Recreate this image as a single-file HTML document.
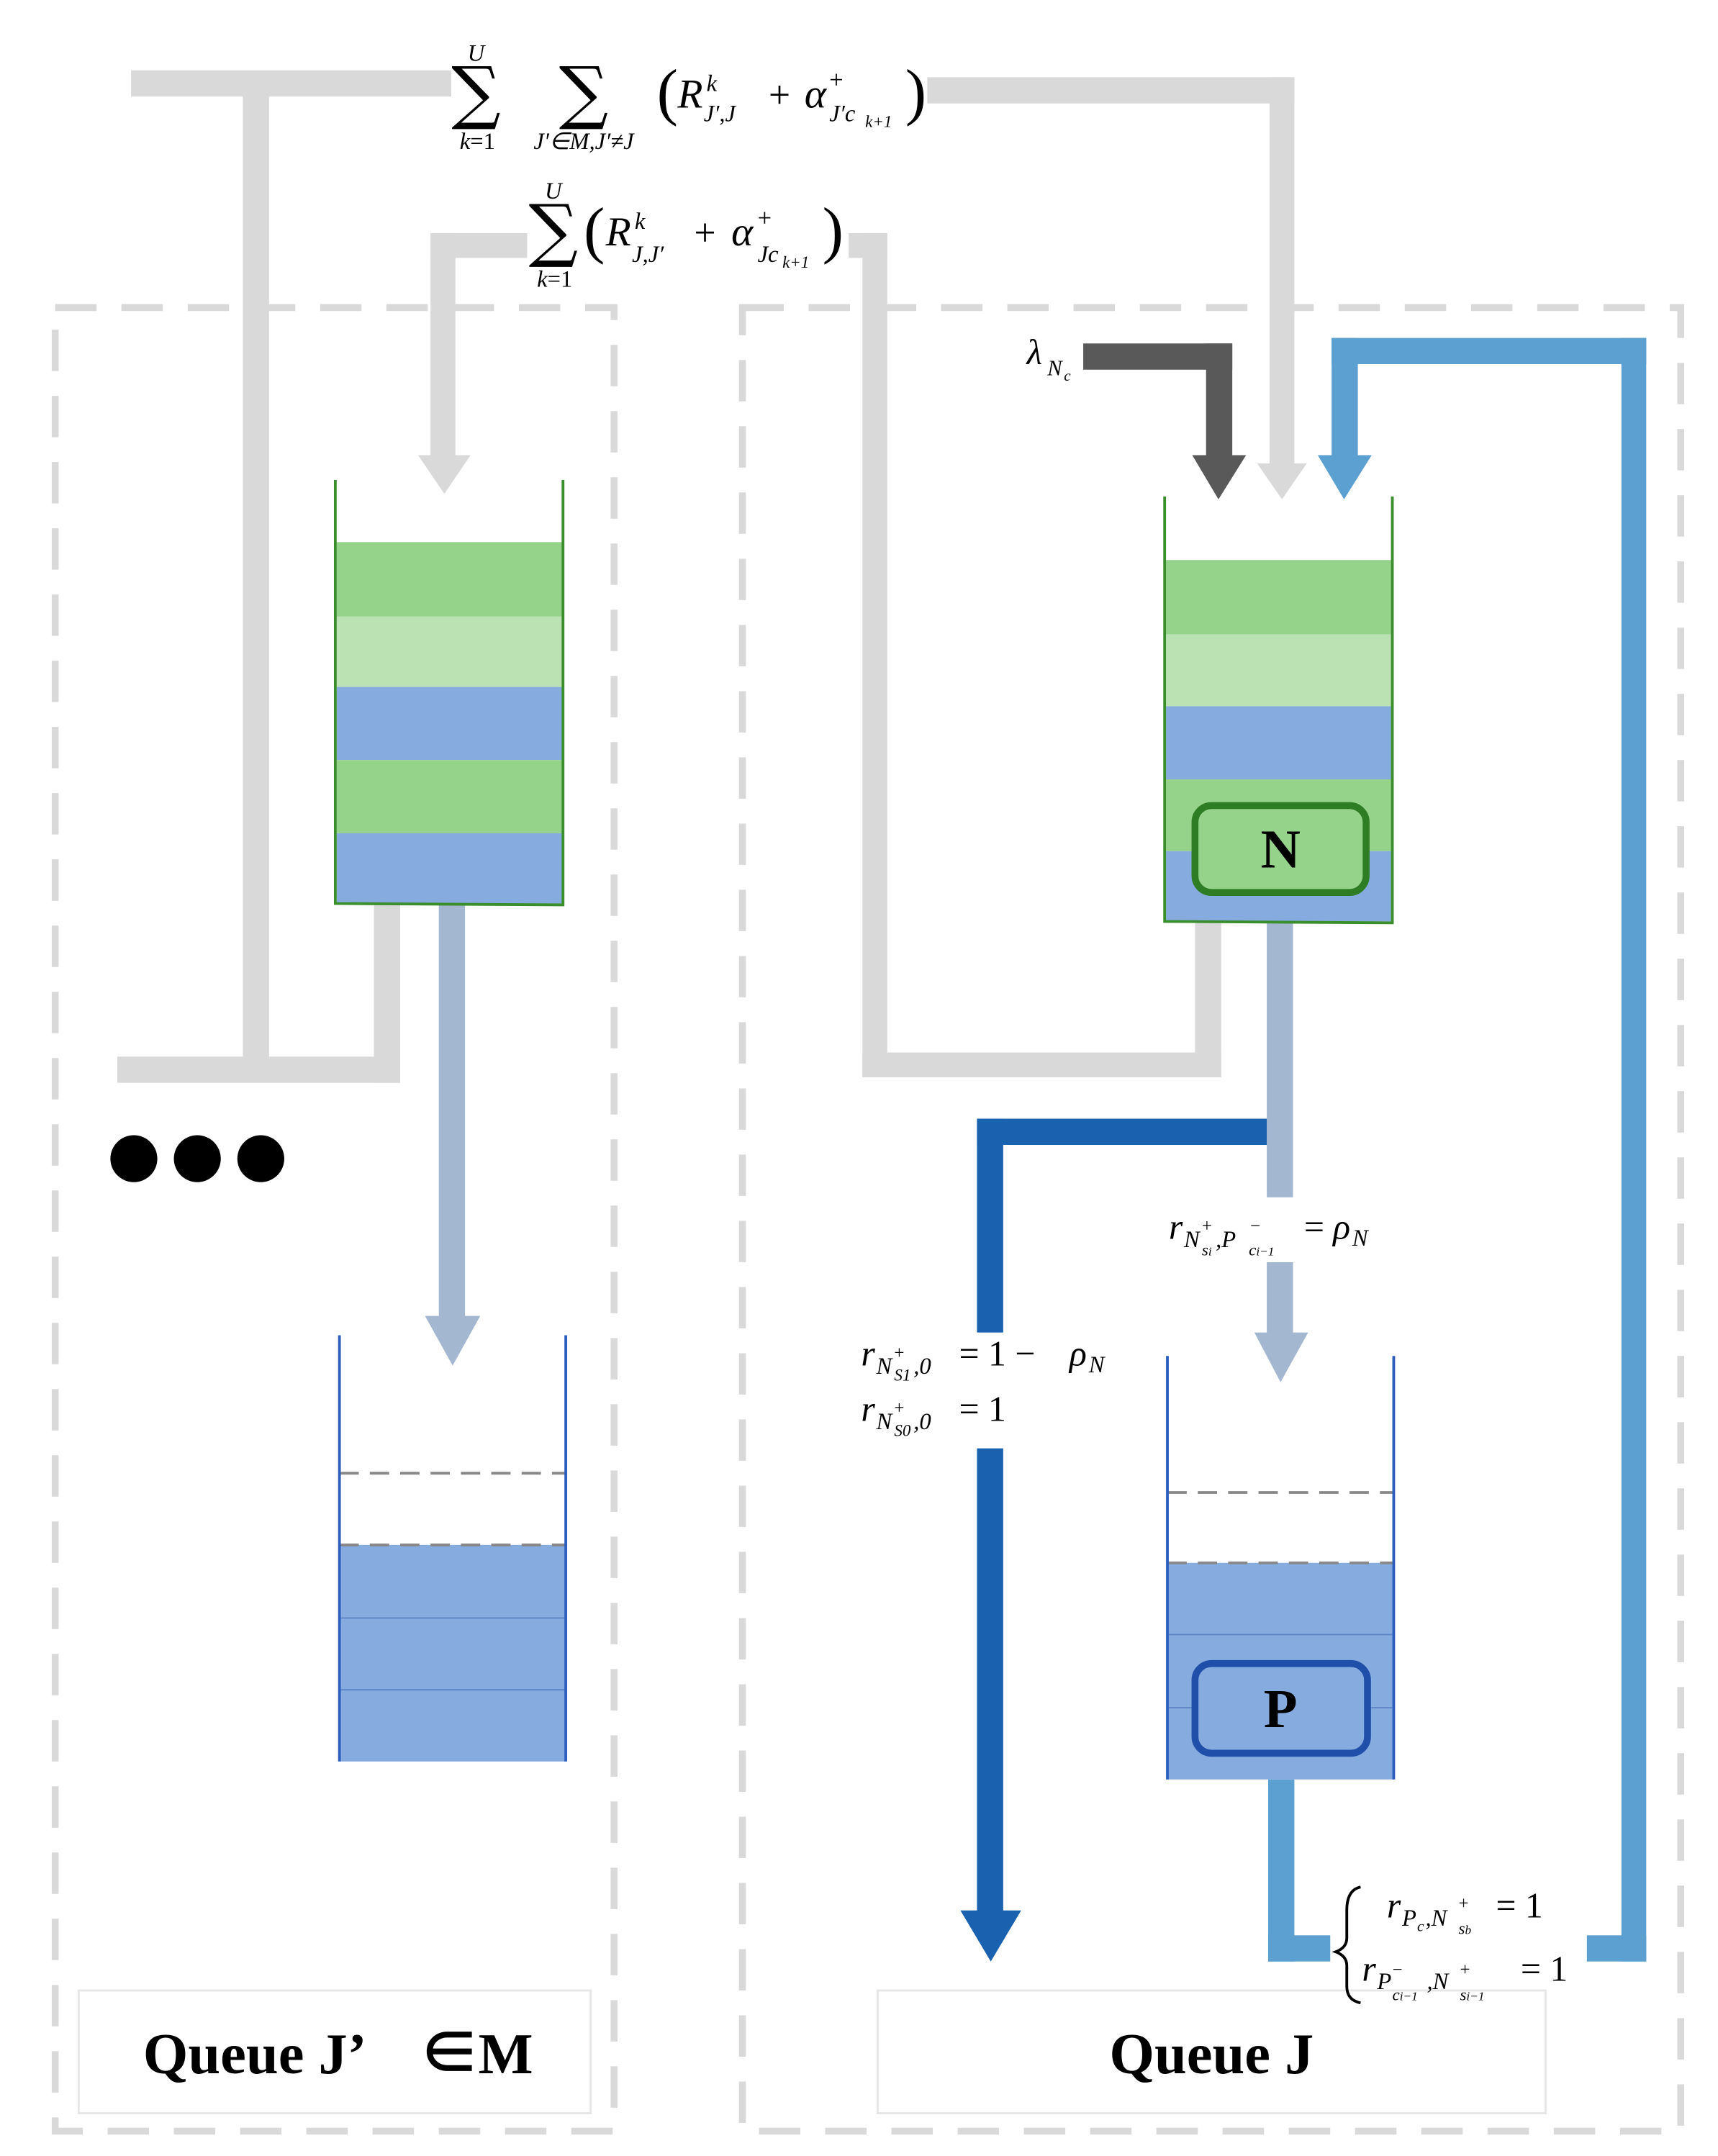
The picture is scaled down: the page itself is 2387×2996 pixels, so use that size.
<!DOCTYPE html>
<html><head><meta charset="utf-8"><style>
html,body{margin:0;padding:0;background:#fff}
svg{display:block}
text{font-family:"Liberation Serif",serif}
.m{font-style:italic}
.s{font-family:"DejaVu Serif",serif}
</style></head><body>
<svg width="2387" height="2996" viewBox="0 0 1245 1563" preserveAspectRatio="none" xmlns="http://www.w3.org/2000/svg">
<rect x="40" y="223" width="405" height="1322" fill="none" stroke="#d9d9d9" stroke-width="5" stroke-dasharray="30,18"/>
<rect x="538" y="223" width="680" height="1322" fill="none" stroke="#d9d9d9" stroke-width="5" stroke-dasharray="30,18"/>
<rect x="57" y="1443" width="371" height="89" fill="#fff" stroke="#e6e6e6" stroke-width="1.5"/>
<rect x="636" y="1443" width="484" height="89" fill="#fff" stroke="#e6e6e6" stroke-width="1.5"/>
<text x="245" y="1503" font-size="42" font-weight="bold" text-anchor="middle">Queue J’　∈M</text>
<text x="878" y="1503" font-size="42" font-weight="bold" text-anchor="middle">Queue J</text>

<g fill="#d9d9d9">
<rect x="95" y="51" width="232" height="19"/>
<rect x="176" y="60" width="19" height="720"/>
<rect x="85" y="766" width="205" height="19"/>
<rect x="271" y="655" width="19" height="130"/>
<rect x="672" y="56" width="266" height="19"/>
<rect x="920" y="56" width="18" height="284"/>
<polygon points="911,336 947,336 929,362"/>
<rect x="312" y="169" width="70" height="18"/>
<rect x="312" y="169" width="18" height="165"/>
<polygon points="303,330 341,330 322,358"/>
<rect x="615" y="169" width="28" height="18"/>
<rect x="625" y="169" width="18" height="612"/>
<rect x="625" y="763" width="260" height="18"/>
<rect x="866" y="668" width="19" height="113"/>
</g>
<rect x="785" y="249" width="108" height="19" fill="#595959"/>
<rect x="874" y="249" width="19" height="84" fill="#595959"/>
<polygon points="864,330 903,330 883,362" fill="#595959"/>
<g fill="#5ba0d0">
<rect x="965" y="245" width="228" height="19"/>
<rect x="965" y="245" width="19" height="88"/>
<polygon points="955,330 994,330 974,362"/>
<rect x="1175" y="245" width="18" height="1177"/>
<rect x="1150" y="1403" width="43" height="19"/>
<rect x="919" y="1290" width="19" height="132"/>
<rect x="919" y="1403" width="45" height="19"/>
</g>
<rect x="318" y="655" width="19" height="302" fill="#a3b8d0"/>
<polygon points="308,954 348,954 328,990" fill="#a3b8d0"/>
<rect x="918" y="668" width="19" height="200" fill="#a3b8d0"/>
<rect x="918" y="915" width="19" height="53" fill="#a3b8d0"/>
<polygon points="909,966 948,966 928,1002" fill="#a3b8d0"/>
<g fill="#1a62b0">
<rect x="708" y="811" width="210" height="19"/>
<rect x="708" y="811" width="19" height="155"/>
<rect x="708" y="1050" width="19" height="340"/>
<polygon points="696,1385 740,1385 718,1422"/>
</g>

<rect x="244" y="393" width="164" height="54" fill="#95d28a"/>
<rect x="244" y="447" width="164" height="51" fill="#bbe2b3"/>
<rect x="244" y="498" width="164" height="53" fill="#86abdf"/>
<rect x="244" y="551" width="164" height="53" fill="#95d28a"/>
<rect x="244" y="604" width="164" height="51" fill="#86abdf"/>
<path d="M243,348 V655 L408,656 V348" fill="none" stroke="#3a8f2c" stroke-width="2"/>
<rect x="845" y="406" width="163" height="54" fill="#95d28a"/>
<rect x="845" y="460" width="163" height="52" fill="#bbe2b3"/>
<rect x="845" y="512" width="163" height="53" fill="#86abdf"/>
<rect x="845" y="565" width="163" height="52" fill="#95d28a"/>
<rect x="845" y="617" width="163" height="51" fill="#86abdf"/>
<path d="M844,360 V668 L1009,669 V360" fill="none" stroke="#3a8f2c" stroke-width="2"/>
<rect x="866" y="584" width="124" height="63" rx="12" fill="#95d28a" stroke="#2e7d24" stroke-width="5"/>
<text x="928" y="629" font-size="40" font-weight="bold" text-anchor="middle">N</text>

<rect x="246" y="1120" width="164" height="157" fill="#86abdf"/>
<line x1="246" y1="1173" x2="410" y2="1173" stroke="#5d84c4" stroke-width="1"/>
<line x1="246" y1="1225" x2="410" y2="1225" stroke="#5d84c4" stroke-width="1"/>
<line x1="246" y1="1068" x2="410" y2="1068" stroke="#888" stroke-width="2" stroke-dasharray="14,8"/>
<line x1="246" y1="1120" x2="410" y2="1120" stroke="#888" stroke-width="2" stroke-dasharray="14,8"/>
<path d="M246,968 V1277 M410,968 V1277" stroke="#2e5fbf" stroke-width="2" fill="none"/>
<rect x="846" y="1133" width="164" height="157" fill="#86abdf"/>
<line x1="846" y1="1185" x2="1010" y2="1185" stroke="#5d84c4" stroke-width="1"/>
<line x1="846" y1="1238" x2="1010" y2="1238" stroke="#5d84c4" stroke-width="1"/>
<line x1="846" y1="1082" x2="1010" y2="1082" stroke="#888" stroke-width="2" stroke-dasharray="14,8"/>
<line x1="846" y1="1133" x2="1010" y2="1133" stroke="#888" stroke-width="2" stroke-dasharray="14,8"/>
<path d="M846,983 V1290 M1010,983 V1290" stroke="#2e5fbf" stroke-width="2" fill="none"/>
<rect x="866" y="1206" width="125" height="65" rx="12" fill="#86abdf" stroke="#1f4fa8" stroke-width="5"/>
<text x="928" y="1252" font-size="40" font-weight="bold" text-anchor="middle">P</text>

<circle cx="97" cy="840" r="17" fill="#000"/>
<circle cx="143" cy="840" r="17" fill="#000"/>
<circle cx="189" cy="840" r="17" fill="#000"/>

<!-- formula 1 -->
<text x="345" y="84" font-size="50" class="s" text-anchor="middle">∑</text>
<text x="345" y="44" font-size="17" class="m" text-anchor="middle">U</text>
<text x="346" y="108" font-size="17" text-anchor="middle"><tspan class="m">k</tspan>=1</text>
<text x="423" y="84" font-size="50" class="s" text-anchor="middle">∑</text>
<text x="423" y="108" font-size="17" class="m" text-anchor="middle">J′∈M,J′≠J</text>
<text x="476" y="82" font-size="46">(</text>
<text x="491" y="78" font-size="30" class="m">R</text>
<text x="512" y="66" font-size="17" class="m">k</text>
<text x="510" y="88" font-size="17" class="m">J′,J</text>
<text x="557" y="78" font-size="28">+</text>
<text x="583" y="78" font-size="30" class="m">α</text>
<text x="601" y="64" font-size="18">+</text>
<text x="601" y="88" font-size="17" class="m">J′c</text>
<text x="627" y="92" font-size="12" class="m">k+1</text>
<text x="656" y="82" font-size="46">)</text>

<!-- formula 2 -->
<text x="401" y="184" font-size="50" class="s" text-anchor="middle">∑</text>
<text x="401" y="144" font-size="17" class="m" text-anchor="middle">U</text>
<text x="402" y="208" font-size="17" text-anchor="middle"><tspan class="m">k</tspan>=1</text>
<text x="423" y="182" font-size="46">(</text>
<text x="439" y="178" font-size="30" class="m">R</text>
<text x="460" y="166" font-size="17" class="m">k</text>
<text x="458" y="190" font-size="17" class="m">J,J′</text>
<text x="503" y="178" font-size="28">+</text>
<text x="530" y="178" font-size="30" class="m">α</text>
<text x="549" y="164" font-size="18">+</text>
<text x="549" y="190" font-size="17" class="m">Jc</text>
<text x="567" y="194" font-size="12" class="m">k+1</text>
<text x="596" y="182" font-size="46">)</text>

<text x="744" y="264" font-size="26" class="m">λ</text>
<text x="759" y="272" font-size="16" class="m">N</text>
<text x="771" y="276" font-size="11" class="m">c</text>

<rect x="840" y="873" width="175" height="42" fill="#fff"/>
<text x="847" y="898" font-size="26" class="m">r</text>
<text x="858" y="904" font-size="17" class="m">N</text>
<text x="871" y="893" font-size="13">+</text>
<text x="871" y="910" font-size="12" class="m">s<tspan font-size="9">i</tspan></text>
<text x="881" y="904" font-size="17" class="m">,P</text>
<text x="906" y="893" font-size="13">−</text>
<text x="905" y="910" font-size="12" class="m">c<tspan font-size="9">i−1</tspan></text>
<text x="945" y="898" font-size="26">=</text>
<text x="966" y="898" font-size="26" class="m">ρ</text>
<text x="980" y="903" font-size="17" class="m">N</text>

<text x="624" y="990" font-size="26" class="m">r</text>
<text x="635" y="996" font-size="17" class="m">N</text>
<text x="648" y="985" font-size="13">+</text>
<text x="648" y="1001" font-size="12" class="m">S1</text>
<text x="662" y="996" font-size="17" class="m">,0</text>
<text x="695" y="990" font-size="26">= 1 −</text>
<text x="775" y="990" font-size="26" class="m">ρ</text>
<text x="789" y="995" font-size="17" class="m">N</text>

<text x="624" y="1030" font-size="26" class="m">r</text>
<text x="635" y="1036" font-size="17" class="m">N</text>
<text x="648" y="1025" font-size="13">+</text>
<text x="648" y="1041" font-size="12" class="m">S0</text>
<text x="662" y="1036" font-size="17" class="m">,0</text>
<text x="695" y="1030" font-size="26">= 1</text>

<path d="M986,1368 Q976,1370 976,1385 L976,1405 Q976,1412 968,1415 Q976,1418 976,1425 L976,1440 Q976,1450 986,1452" fill="none" stroke="#000" stroke-width="2"/>
<text x="1005" y="1390" font-size="26" class="m">r</text>
<text x="1016" y="1396" font-size="17" class="m">P</text>
<text x="1027" y="1400" font-size="11" class="m">c</text>
<text x="1033" y="1396" font-size="17" class="m">,N</text>
<text x="1057" y="1384" font-size="13">+</text>
<text x="1057" y="1402" font-size="12" class="m">s<tspan font-size="9">b</tspan></text>
<text x="1084" y="1390" font-size="26">= 1</text>

<text x="987" y="1436" font-size="26" class="m">r</text>
<text x="998" y="1442" font-size="17" class="m">P</text>
<text x="1009" y="1432" font-size="13">−</text>
<text x="1009" y="1450" font-size="12" class="m">c<tspan font-size="9">i−1</tspan></text>
<text x="1034" y="1442" font-size="17" class="m">,N</text>
<text x="1058" y="1432" font-size="13">+</text>
<text x="1058" y="1450" font-size="12" class="m">s<tspan font-size="9">i−1</tspan></text>
<text x="1102" y="1436" font-size="26">= 1</text>
</svg>
</body></html>
